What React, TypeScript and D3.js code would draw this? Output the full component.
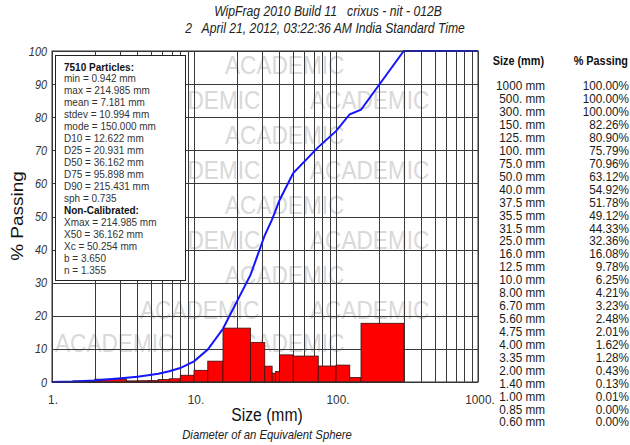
import React, { useEffect, useRef } from "react";
import * as d3 from "d3";

// sieve table (largest first, as in the printout)
const sizes = [1000, 500, 300, 150, 125, 100, 75, 50, 40, 37.5, 35.5, 31.5, 25, 16, 12.5, 10, 8, 6.7, 5.6, 4.75, 4, 3.35, 2, 1.4, 1, 0.85, 0.6];
const sizeLabels = ["1000 mm", "500. mm", "300. mm", "150. mm", "125. mm", "100. mm", "75.0 mm", "50.0 mm", "40.0 mm", "37.5 mm", "35.5 mm", "31.5 mm", "25.0 mm", "16.0 mm", "12.5 mm", "10.0 mm", "8.00 mm", "6.70 mm", "5.60 mm", "4.75 mm", "4.00 mm", "3.35 mm", "2.00 mm", "1.40 mm", "1.00 mm", "0.85 mm", "0.60 mm"];
const passing = [100, 100, 100, 82.26, 80.9, 75.79, 70.96, 63.12, 54.92, 51.78, 49.12, 44.33, 32.36, 16.08, 9.78, 6.25, 4.21, 3.23, 2.48, 2.01, 1.62, 1.28, 0.43, 0.13, 0.01, 0, 0];

// histogram bins (edges) and % retained in each
const binEdges = [1, 1.4, 2, 3.35, 4, 4.75, 5.6, 6.7, 8, 10, 12.5, 16, 25, 31.5, 35.5, 37.5, 40, 50, 75, 100, 125, 150, 300];
const retained = [0.12, 0.3, 0.85, 0.34, 0.39, 0.47, 0.75, 0.98, 2.04, 3.53, 6.3, 16.28, 11.97, 4.79, 2.66, 3.14, 8.2, 7.84, 4.83, 5.11, 1.36, 17.74];

const xTicks = [1, 10, 100, 1000];
const xTickLabels = ["1.", "10.", "100.", "1000."];
const yTicks = [0, 10, 20, 30, 40, 50, 60, 70, 80, 90, 100];

const statsLines = [
  "7510 Particles:",
  "min = 0.942 mm",
  "max = 214.985 mm",
  "mean = 7.181 mm",
  "stdev = 10.994 mm",
  "mode = 150.000 mm",
  "D10 = 12.622 mm",
  "D25 = 20.931 mm",
  "D50 = 36.162 mm",
  "D75 = 95.898 mm",
  "D90 = 215.431 mm",
  "sph = 0.735",
  "Non-Calibrated:",
  "Xmax = 214.985 mm",
  "X50 = 36.162 mm",
  "Xc = 50.254 mm",
  "b = 3.650",
  "n = 1.355",
];
const boldLines = ["7510 Particles:", "Non-Calibrated:"];

const title1 = "WipFrag 2010 Build 11   crixus - nit - 012B";
const title2 = "2   April 21, 2012, 03:22:36 AM India Standard Time";

const FONT = "'Liberation Sans', Arial, sans-serif";
const SX = 0.87; // everything in the printout is a bit squeezed sideways

function Chart() {
  const ref = useRef<SVGSVGElement>(null);
  const width = 630;
  const height = 445;
  const plot = { left: 52, right: 478, top: 51, bottom: 382 };
  const box = { x: 55.5, y: 55.5, w: 130, h: 225 };

  useEffect(() => {
    const svg = d3.select(ref.current);
    svg.selectAll("*").remove();

    const x = d3.scaleLog().domain([1, 1000]).range([plot.left, plot.right]);
    const y = d3.scaleLinear().domain([0, 100]).range([plot.bottom, plot.top]);

    const txt = (
      g: any,
      px: number,
      py: number,
      s: string,
      opt: { size: number; anchor?: string; weight?: string; style?: string; fill?: string; rotate?: boolean }
    ) => {
      return g
        .append("text")
        .attr(
          "transform",
          opt.rotate
            ? `translate(${px},${py}) rotate(-90) scale(1,${SX})`
            : `translate(${px},${py}) scale(${SX},1)`
        )
        .attr("text-anchor", opt.anchor || "start")
        .style("font-family", FONT)
        .style("font-size", `${opt.size}px`)
        .style("font-weight", opt.weight || "normal")
        .style("font-style", opt.style || "normal")
        .style("white-space", "pre")
        .attr("fill", opt.fill || "#1a1a1a")
        .text(s);
    };

    svg.append("rect").attr("width", width).attr("height", height).attr("fill", "#fff");

    // watermark (only the parts not hidden by the stats box)
    const wm = svg.append("g");
    const wmRows = [65, 100, 135, 170, 205, 240, 275, 310, 343];
    wmRows.forEach((cy, i) => {
      const starts = i % 2 === 0 ? [55, 225] : [140, 310];
      starts.forEach((sx) => {
        const underBox = cy < box.y + box.h && sx < box.x + box.w;
        if (!underBox) {
          txt(wm, sx, cy + 9, "ACADEMIC", { size: 26, fill: "#d9d9d9" });
        } else if (sx + 100 > box.x + box.w) {
          txt(wm, box.x + box.w + 2, cy + 9, "DEMIC", { size: 26, fill: "#d9d9d9" });
        }
      });
    });

    // grid
    const grid = svg.append("g").attr("stroke", "#3a3a3a").attr("stroke-width", 1);
    const minor: number[] = [];
    [1, 10, 100].forEach((d) => {
      for (let k = 1; k < 10; k++) minor.push(d * k);
    });
    minor.push(1000);
    grid
      .selectAll("line.v")
      .data(minor)
      .enter()
      .append("line")
      .attr("x1", (d) => Math.round(x(d)) + 0.5)
      .attr("x2", (d) => Math.round(x(d)) + 0.5)
      .attr("y1", plot.top)
      .attr("y2", plot.bottom);
    grid
      .selectAll("line.h")
      .data(yTicks)
      .enter()
      .append("line")
      .attr("x1", plot.left)
      .attr("x2", plot.right)
      .attr("y1", (d) => Math.round(y(d)) + 0.5)
      .attr("y2", (d) => Math.round(y(d)) + 0.5);

    // bars
    svg
      .append("g")
      .selectAll("rect")
      .data(retained)
      .enter()
      .append("rect")
      .attr("x", (d, i) => x(binEdges[i]))
      .attr("width", (d, i) => x(binEdges[i + 1]) - x(binEdges[i]))
      .attr("y", (d) => y(d))
      .attr("height", (d) => y(0) - y(d))
      .attr("fill", "#ff0000")
      .attr("stroke", "#3a1010")
      .attr("stroke-width", 0.8);

    // cumulative passing curve
    const pts = sizes
      .map((s, i) => [s, passing[i]] as [number, number])
      .filter((p) => p[0] >= 1)
      .sort((a, b) => a[0] - b[0]);
    const line = d3
      .line<[number, number]>()
      .x((d) => x(d[0]))
      .y((d) => y(d[1]));
    svg
      .append("path")
      .attr("d", line(pts))
      .attr("fill", "none")
      .attr("stroke", "#1414ff")
      .attr("stroke-width", 2);

    // frame
    svg
      .append("rect")
      .attr("x", plot.left)
      .attr("y", plot.top)
      .attr("width", plot.right - plot.left)
      .attr("height", plot.bottom - plot.top)
      .attr("fill", "none")
      .attr("stroke", "#333")
      .attr("stroke-width", 1);

    // stats box
    svg
      .append("rect")
      .attr("x", box.x)
      .attr("y", box.y)
      .attr("width", box.w)
      .attr("height", box.h)
      .attr("fill", "#fff")
      .attr("stroke", "#222")
      .attr("stroke-width", 1);
    const sb = svg.append("g");
    statsLines.forEach((s, i) => {
      const bold = boldLines.includes(s);
      txt(sb, 64, 70.5 + i * 11.95, s, { size: 11.5, weight: bold ? "bold" : "normal", fill: bold ? "#111" : "#333" });
    });

    // axis tick labels
    const ax = svg.append("g");
    yTicks.forEach((d) => {
      txt(ax, 47, y(d) + 4.5, String(d), { size: 12.5, anchor: "end", style: "italic", fill: "#333" });
    });
    xTicks.forEach((d, i) => {
      txt(ax, x(d) + (i === 0 ? 1 : 2), 404, xTickLabels[i], { size: 13.5, anchor: "middle", fill: "#333" });
    });

    // axis titles
    txt(svg, 267, 421, "Size (mm)", { size: 18, anchor: "middle", fill: "#111" });
    txt(svg, 267, 439, "Diameter of an Equivalent Sphere", { size: 13, anchor: "middle", style: "italic", fill: "#222" });
    txt(svg, 23, 216, "% Passing", { size: 19, anchor: "middle", fill: "#111", rotate: true });

    // title
    txt(svg, 328, 16, title1, { size: 14, anchor: "middle", style: "italic", fill: "#222" });
    txt(svg, 325, 33, title2, { size: 14, anchor: "middle", style: "italic", fill: "#222" });

    // size / passing table
    const tb = svg.append("g");
    txt(tb, 544, 65, "Size (mm)", { size: 12.5, anchor: "end", weight: "bold", fill: "#111" });
    txt(tb, 628, 65, "% Passing", { size: 12.5, anchor: "end", weight: "bold", fill: "#111" });
    sizes.forEach((s, i) => {
      const cy = 85.5 + i * 12.93;
      txt(tb, 545, cy + 4.8, sizeLabels[i], { size: 13.5, anchor: "end" });
      txt(tb, 629, cy + 4.8, `${passing[i].toFixed(2)}%`, { size: 13.5, anchor: "end" });
    });
  }, []);

  return (
    <svg
      ref={ref}
      width={width}
      height={height}
      style={{ position: "absolute", left: 0, top: 0, display: "block" }}
    />
  );
}

export default function App() {
  return <Chart />;
}
